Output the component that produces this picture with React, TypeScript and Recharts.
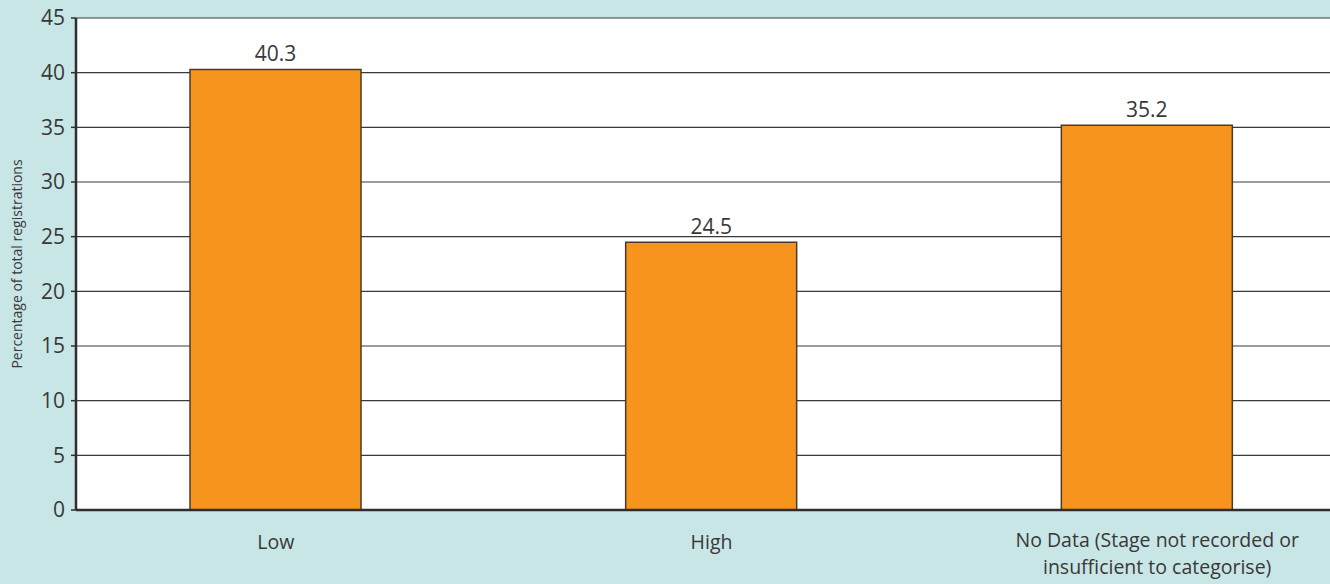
import React from 'react';
import {
  BarChart,
  Bar,
  XAxis,
  YAxis,
  CartesianGrid,
  LabelList,
} from 'recharts';

// Stage categories (newline marks where the long label wraps)
const categories = [
  'Low',
  'High',
  'No Data (Stage not recorded or\ninsufficient to categorise)',
];
const percentages = [40.3, 24.5, 35.2];
const yTicks = [0, 5, 10, 15, 20, 25, 30, 35, 40, 45];

const chartData = categories.map((stage, i) => ({ stage, value: percentages[i] }));

const FONT = '"Open Sans", "Noto Sans", sans-serif';
const TEXT = '#383838';

// Category tick that can span more than one line
const CategoryTick = (props: any) => {
  const { x, y, payload } = props;
  const lines = String(payload.value).split('\n');
  const shift = lines.length > 1 ? 10 : 0;
  return (
    <g transform={`translate(${x},${y})`}>
      {lines.map((line, index) => (
        <text
          key={index}
          x={shift}
          y={(lines.length > 1 ? 37 : 39) + index * 27}
          textAnchor="middle"
          fill={TEXT}
          fontSize={19.5}
          fontFamily={FONT}
        >
          {line}
        </text>
      ))}
    </g>
  );
};

const App: React.FC = () => {
  return (
    <div
      style={{
        position: 'absolute',
        left: 0,
        top: 0,
        width: 1330,
        height: 584,
        background: '#c9e6e6',
        overflow: 'hidden',
      }}
    >
      <BarChart
        width={1330}
        height={584}
        data={chartData}
        margin={{ top: 18, right: 0, left: 0, bottom: 0 }}
      >
        <CartesianGrid vertical={false} stroke="#3a3a3a" strokeWidth={1.2} fill="#ffffff" fillOpacity={1} />
        <XAxis
          dataKey="stage"
          interval={0}
          height={74}
          padding={{ left: -18, right: -35 }}
          axisLine={{ stroke: '#2e2e2e', strokeWidth: 2.5 }}
          tickLine={false}
          tickSize={0}
          tickMargin={0}
          tick={<CategoryTick />}
        />
        <YAxis
          type="number"
          domain={[0, 45]}
          ticks={yTicks}
          interval={0}
          width={76}
          axisLine={{ stroke: '#2e2e2e', strokeWidth: 2.5 }}
          tickLine={{ stroke: '#2e2e2e', strokeWidth: 1.5 }}
          tickSize={5}
          tickMargin={6}
          tick={{ fill: TEXT, fontSize: 21, fontFamily: FONT }}
          label={{
            value: 'Percentage of total registrations',
            angle: -90,
            position: 'insideLeft',
            offset: 17,
            style: { textAnchor: 'middle', fill: TEXT, fontSize: 14, fontFamily: FONT },
          }}
        />
        <Bar
          dataKey="value"
          barSize={171}
          fill="#f7941d"
          stroke="#4a3b2c"
          strokeWidth={1.5}
          isAnimationActive={false}
        >
          <LabelList
            dataKey="value"
            position="top"
            offset={8}
            fill={TEXT}
            fontSize={21}
            fontFamily={FONT}
          />
        </Bar>
      </BarChart>
    </div>
  );
};

export default App;
